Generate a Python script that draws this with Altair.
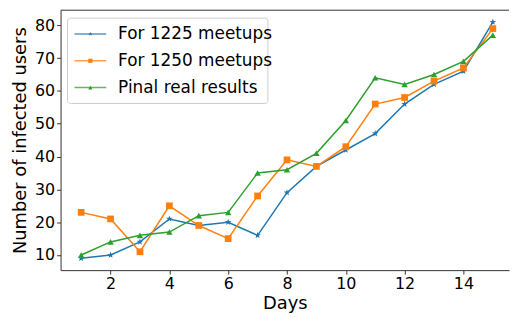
import altair as alt
import pandas as pd

days = list(range(1, 16))
series_names = ["For 1225 meetups", "For 1250 meetups", "Pinal real results"]
vals_1225 = [9, 10, 14, 21, 19, 20, 16, 29, 37, 42, 47, 56, 62, 66, 81]
vals_1250 = [23, 21, 11, 25, 19, 15, 28, 39, 37, 43, 56, 58, 63, 67, 79]
vals_real = [10, 14, 16, 17, 22, 23, 35, 36, 41, 51, 64, 62, 65, 69, 77]
colors = ["#1f77b4", "#ff7f0e", "#2ca02c"]
star = ("M0,-1L0.235,-0.324L0.951,-0.309L0.38,0.124L0.588,0.809L0,0.4"
        "L-0.588,0.809L-0.38,0.124L-0.951,-0.309L-0.235,-0.324Z")
shapes = [star, "square", "triangle-up"]
sizes = [50, 42, 42]
x_ticks = [2, 4, 6, 8, 10, 12, 14]
y_ticks = [10, 20, 30, 40, 50, 60, 70, 80]

rows = []
for name, vals in zip(series_names, [vals_1225, vals_1250, vals_real]):
    for d, v in zip(days, vals):
        rows.append({"day": d, "users": v, "series": name})
df = pd.DataFrame(rows)

W, H = 452, 262
FONT = "DejaVu Sans"

color_scale = alt.Scale(domain=series_names, range=colors)
shape_scale = alt.Scale(domain=series_names, range=shapes)
size_scale = alt.Scale(domain=series_names, range=sizes)

x_enc = alt.X("day:Q", title="Days",
              scale=alt.Scale(domain=[0.3, 15.55], nice=False, zero=False),
              axis=alt.Axis(values=x_ticks, grid=False))
y_enc = alt.Y("users:Q", title="Number of infected users",
              scale=alt.Scale(domain=[5.4, 84.6], nice=False, zero=False),
              axis=alt.Axis(values=y_ticks, grid=False))

base = alt.Chart(df)
lines = base.mark_line(strokeWidth=1.5).encode(
    x=x_enc, y=y_enc,
    color=alt.Color("series:N", scale=color_scale, legend=None),
    detail="series:N",
)
points = base.mark_point(filled=True, opacity=1).encode(
    x=x_enc, y=y_enc,
    color=alt.Color("series:N", scale=color_scale, legend=None),
    shape=alt.Shape("series:N", scale=shape_scale, legend=None),
    size=alt.Size("series:N", scale=size_scale, legend=None),
)
data_layer = alt.layer(lines, points)

top_spine = alt.Chart(pd.DataFrame({"a": [0]})).mark_rule(color="#333", strokeWidth=1).encode(
    x=alt.value(0), x2=alt.value(W), y=alt.value(0)
)

# legend
leg = pd.DataFrame({"series": series_names, "idx": [0, 1, 2]})
leg_y = alt.Y("idx:Q", scale=alt.Scale(domain=[0, 2], range=[24, 78]), axis=None)
leg_box = alt.Chart(pd.DataFrame({"a": [0]})).mark_rect(
    fill="white", fillOpacity=0.8, stroke="#cccccc", strokeWidth=1, cornerRadius=3
).encode(x=alt.value(7), x2=alt.value(209), y=alt.value(8), y2=alt.value(94))
leg_lines = alt.Chart(leg).mark_rule(strokeWidth=1.5, opacity=0.75).encode(
    x=alt.value(14), x2=alt.value(46), y=leg_y,
    color=alt.Color("series:N", scale=color_scale, legend=None),
)
leg_pts = alt.Chart(leg).mark_point(filled=True, opacity=1).encode(
    x=alt.value(30), y=leg_y,
    color=alt.Color("series:N", scale=color_scale, legend=None),
    shape=alt.Shape("series:N", scale=shape_scale, legend=None),
    size=alt.value(18),
)
leg_text = alt.Chart(leg).mark_text(
    align="left", baseline="middle", font=FONT, fontSize=17, color="black"
).encode(x=alt.value(58), y=leg_y, text="series:N")

chart = alt.layer(
    data_layer, top_spine, leg_box, leg_lines, leg_pts, leg_text
).resolve_scale(y="independent").properties(
    width=W, height=H,
    padding={"left": 3, "top": 0, "right": 0, "bottom": 0},
).configure_view(stroke=None).configure_axis(
    labelFont=FONT, titleFont=FONT, labelFontSize=16, titleFontSize=18,
    labelColor="black", titleColor="black", titleFontWeight="normal",
    domainColor="#333", tickColor="#333", tickSize=4, domainWidth=1,
    labelPadding=2,
).configure_axisX(titlePadding=3).configure_axisY(titlePadding=5)

chart.save("out.html", embed_options={"renderer": "svg", "actions": False})
